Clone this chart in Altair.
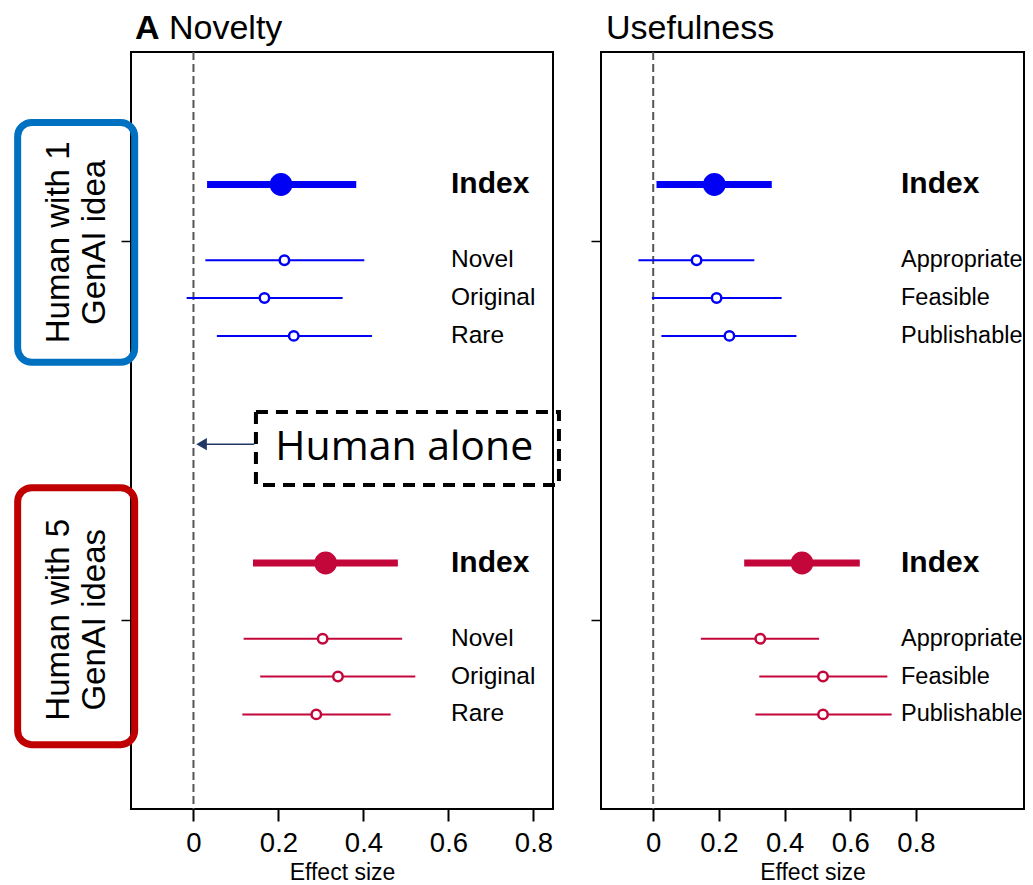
import altair as alt
import pandas as pd

FONT = "Liberation Sans"
BLUE = "#0000F5"
RED = "#C4073A"

# ---------------- data ----------------
nov_items = ["Index", "Novel", "Original", "Rare"]
use_items = ["Index", "Appropriate", "Feasible", "Publishable"]
group_keys = ["one", "five"]

nov1_est = [0.206, 0.214, 0.167, 0.236]
nov1_lo = [0.032, 0.028, -0.016, 0.055]
nov1_hi = [0.383, 0.402, 0.351, 0.420]

nov5_est = [0.311, 0.304, 0.340, 0.289]
nov5_lo = [0.140, 0.118, 0.157, 0.115]
nov5_hi = [0.481, 0.491, 0.522, 0.464]

use1_est = [0.186, 0.132, 0.193, 0.232]
use1_lo = [0.010, -0.045, -0.004, 0.025]
use1_hi = [0.361, 0.308, 0.391, 0.436]

use5_est = [0.453, 0.326, 0.517, 0.517]
use5_lo = [0.277, 0.145, 0.323, 0.311]
use5_hi = [0.629, 0.505, 0.713, 0.726]

group_labels = [["Human with 1", "GenAI idea"], ["Human with 5", "GenAI ideas"]]
x_ticks = [0, 0.2, 0.4, 0.6, 0.8]


def build(panel, items, sets):
    recs = []
    for g, (est, lo, hi) in enumerate(sets):
        for i, item in enumerate(items):
            pos = g * 10 + (3.5 if i == 0 else 4.5 + i)
            recs.append(dict(panel=panel, group=group_keys[g], item=item,
                             kind="index" if i == 0 else "item",
                             est=est[i], lo=lo[i], hi=hi[i], pos=pos))
    return recs


df = pd.DataFrame(
    build("Novelty", nov_items, [(nov1_est, nov1_lo, nov1_hi), (nov5_est, nov5_lo, nov5_hi)])
    + build("Usefulness", use_items, [(use1_est, use1_lo, use1_hi), (use5_est, use5_lo, use5_hi)])
)

color_scale = alt.Scale(domain=group_keys, range=[BLUE, RED])
yscale = alt.Scale(domain=[0, 20], reverse=True, nice=False, zero=False)
yaxis = alt.Axis(values=[5, 15], labels=False, ticks=True, tickSize=10, tickWidth=1.5,
                 tickColor="black", domain=False, grid=False)


def xaxis():
    return alt.Axis(values=x_ticks,
                    labelExpr="datum.value == 0 ? '0' : format(datum.value, '.1f')",
                    grid=False, domain=False, ticks=True, tickSize=12, tickWidth=2,
                    tickColor="black", labelFontSize=27.5, labelFont=FONT, labelColor="black",
                    labelPadding=8, titleFont=FONT, titleFontSize=23, titleFontWeight="normal",
                    titleColor="black", titlePadding=5)


def title_marks(parts):
    out = []
    for txt, px, weight in parts:
        out.append(alt.Chart(pd.DataFrame({"t": [txt]})).mark_text(
            align="left", baseline="alphabetic", font=FONT, fontSize=34, fontWeight=weight,
            color="black"
        ).encode(x=alt.value(px), y=alt.value(-13), text="t:N"))
    return out


def panel_chart(name, domain, title_parts, label_px, item_font, width, extra):
    d = df[df.panel == name]
    xs = alt.Scale(domain=domain, nice=False, zero=False)

    def X(f):
        return alt.X(f, scale=xs, axis=xaxis(), title="Effect size")

    def Y(f):
        return alt.Y(f, scale=yscale, axis=yaxis, title=None)

    col = alt.Color("group:N", scale=color_scale, legend=None)
    base = alt.Chart(d)

    zero = alt.Chart(pd.DataFrame({"zero": [0]})).mark_rule(
        color="#555555", strokeWidth=2, strokeDash=[8, 4]
    ).encode(x=X("zero:Q"))

    ci_idx = base.transform_filter("datum.kind == 'index'").mark_rule(strokeWidth=7).encode(
        x=X("lo:Q"), x2="hi:Q", y=Y("pos:Q"), color=col)
    ci_item = base.transform_filter("datum.kind == 'item'").mark_rule(strokeWidth=2).encode(
        x=X("lo:Q"), x2="hi:Q", y=Y("pos:Q"), color=col)
    pt_idx = base.transform_filter("datum.kind == 'index'").mark_circle(size=520, opacity=1).encode(
        x=X("est:Q"), y=Y("pos:Q"), color=col)
    pt_item = base.transform_filter("datum.kind == 'item'").mark_point(
        shape="circle", filled=False, fill="white", fillOpacity=1, strokeWidth=2.5, size=90, opacity=1
    ).encode(x=X("est:Q"), y=Y("pos:Q"), stroke=alt.Stroke("group:N", scale=color_scale, legend=None))

    lab_idx = base.transform_filter("datum.kind == 'index'").mark_text(
        align="left", baseline="middle", font=FONT, fontSize=30, fontWeight="bold", color="black"
    ).encode(x=alt.value(label_px), y=Y("pos:Q"), text="item:N")
    lab_item = base.transform_filter("datum.kind == 'item'").mark_text(
        align="left", baseline="middle", font=FONT, fontSize=item_font, color="black"
    ).encode(x=alt.value(label_px), y=Y("pos:Q"), text="item:N")

    layers = ([zero, ci_idx, ci_item, pt_idx, pt_item, lab_idx, lab_item]
              + title_marks(title_parts) + [e(X, Y) for e in extra])
    return alt.layer(*layers).properties(width=width, height=757)


# ---------------- annotations (left panel) ----------------
box_x = [-0.4137, -0.1384]
box_y = [[1.86, 8.20], [11.51, 18.30]]
box_colors = ["#0070C0", "#C00000"]
box_text_x = -0.317
box_text_y = [5.03, 15.0]

alone_x = [0.147, 0.860]
alone_y = [9.51, 11.44]
alone_text = dict(x=0.496, y=10.46, t="Human alone")
arrow = dict(x=0.03, x2=0.143, y=10.36, head=0.019)


def group_boxes(X, Y):
    out = []
    for k in range(2):
        r = alt.Chart(pd.DataFrame({"x": [box_x[0]], "x2": [box_x[1]],
                                    "y": [box_y[k][0]], "y2": [box_y[k][1]]})).mark_rect(
            filled=False, stroke=box_colors[k], strokeWidth=7, cornerRadius=14
        ).encode(x=X("x:Q"), x2="x2:Q", y=Y("y:Q"), y2="y2:Q")
        t = alt.Chart(pd.DataFrame({"x": [box_text_x], "y": [box_text_y[k]],
                                    "t": [group_labels[k]]})).mark_text(
            angle=270, align="center", baseline="middle", font=FONT, fontSize=33,
            lineHeight=36, color="black"
        ).encode(x=X("x:Q"), y=Y("y:Q"), text="t")
        out += [r, t]
    return alt.layer(*out)


def alone_box(X, Y):
    r = alt.Chart(pd.DataFrame({"x": [alone_x[0]], "x2": [alone_x[1]],
                                "y": [alone_y[0]], "y2": [alone_y[1]]})).mark_rect(
        filled=False, stroke="black", strokeWidth=4, strokeDash=[12, 8]
    ).encode(x=X("x:Q"), x2="x2:Q", y=Y("y:Q"), y2="y2:Q")
    t = alt.Chart(pd.DataFrame({"x": [alone_text["x"]], "y": [alone_text["y"]],
                                "t": [alone_text["t"]]})).mark_text(
        align="center", baseline="middle", font="Open Sans", fontSize=41, color="black"
    ).encode(x=X("x:Q"), y=Y("y:Q"), text="t:N")
    line = alt.Chart(pd.DataFrame({"x": [arrow["x"]], "x2": [arrow["x2"]], "y": [arrow["y"]]})).mark_rule(
        color="#1F3864", strokeWidth=1.5
    ).encode(x=X("x:Q"), x2="x2:Q", y=Y("y:Q"))
    head = alt.Chart(pd.DataFrame({"x": [arrow["head"]], "y": [arrow["y"]]})).mark_point(
        shape="triangle-left", filled=True, color="#1F3864", size=150, opacity=1
    ).encode(x=X("x:Q"), y=Y("y:Q"))
    return alt.layer(r, t, line, head)


left = panel_chart("Novelty", [-0.147, 0.846],
                   [("A", 4, "bold"), ("Novelty", 38, "normal")], 320, 24.5, 422,
                   [group_boxes, alone_box])
right = panel_chart("Usefulness", [-0.159, 1.129],
                    [("Usefulness", 5, "normal")], 300, 23.5, 423, [])

chart = alt.hconcat(left, right, spacing=48, bounds="flush").properties(
    padding={"left": 5, "top": 3, "right": 0, "bottom": 0}
).configure_view(stroke="black", strokeWidth=2).configure_concat(spacing=48)

chart.save("out.html", embed_options={"renderer": "svg", "actions": False})
